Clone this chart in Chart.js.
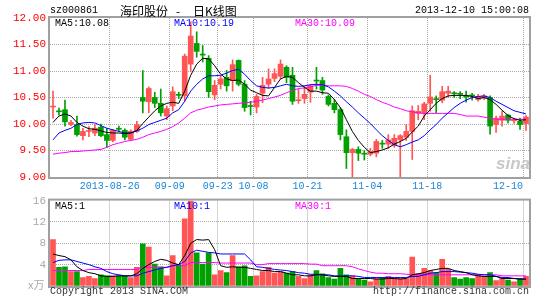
<!DOCTYPE html>
<html>
<head>
<meta charset="utf-8">
<script src="https://cdn.jsdelivr.net/npm/chart.js@4"></script>
<style>
  body { margin: 0; background: #fff; }
  #wrap { position: relative; width: 545px; height: 300px; overflow: hidden; }
  canvas { position: absolute; left: 0; }
  .t { position: absolute; font: 10px 'Liberation Mono', monospace; line-height: 12px; white-space: pre; }
  .cjk { position: absolute; font: 12px 'Noto Sans CJK SC', sans-serif; line-height: 14px; }
</style>
</head>
<body>
<div id="wrap">
  <canvas id="price" width="545" height="195" style="top:0"></canvas>
  <canvas id="volume" width="545" height="110" style="top:190px"></canvas>

  <div class="t" style="left:50px;top:5px">sz000861</div>
  <div class="cjk" style="left:120px;top:4px">海印股份</div>
  <div class="cjk" style="left:176px;top:4px">-</div>
  <div class="cjk" style="left:193px;top:4px">日K线图</div>
  <div class="t" style="right:16px;top:5px">2013-12-10 15:00:08</div>

  <div class="t" style="left:55px;top:18px;color:#000">MA5:10.08</div>
  <div class="t" style="left:174px;top:18px;color:#0000ff">MA10:10.19</div>
  <div class="t" style="left:295px;top:18px;color:#ff00ff">MA30:10.09</div>

  <div class="t" style="left:55px;top:201px;color:#000">MA5:1</div>
  <div class="t" style="left:174px;top:201px;color:#0000ff">MA10:1</div>
  <div class="t" style="left:295px;top:201px;color:#ff00ff">MA30:1</div>

  <div class="cjk" style="left:28px;top:277px;color:#aaa;font-size:11px">x万</div>
  <div class="t" style="left:50px;top:286px;color:#333">Copyright 2013 SINA.COM</div>
  <div class="t" style="right:16px;top:286px;color:#333">http://finance.sina.com.cn</div>
  <div style="position:absolute;left:496px;top:154px;font:italic bold 17px 'Liberation Sans',sans-serif;color:#c8c8c8">sina</div>
</div>

<script>
const dates = [
  '2013-08-12','2013-08-13','2013-08-14','2013-08-15','2013-08-16','2013-08-19','2013-08-20','2013-08-21','2013-08-22','2013-08-23',
  '2013-08-26','2013-08-27','2013-08-28','2013-08-29','2013-08-30','2013-09-02','2013-09-03','2013-09-04','2013-09-05','2013-09-06',
  '2013-09-09','2013-09-10','2013-09-11','2013-09-12','2013-09-13','2013-09-16','2013-09-17','2013-09-18',
  '2013-09-23','2013-09-24','2013-09-25','2013-09-26','2013-09-27','2013-09-30',
  '2013-10-08','2013-10-09','2013-10-10','2013-10-11','2013-10-14','2013-10-15','2013-10-16','2013-10-17','2013-10-18',
  '2013-10-21','2013-10-22','2013-10-23','2013-10-24','2013-10-25','2013-10-28','2013-10-29','2013-10-30','2013-10-31','2013-11-01',
  '2013-11-04','2013-11-05','2013-11-06','2013-11-07','2013-11-08','2013-11-11','2013-11-12','2013-11-13','2013-11-14','2013-11-15',
  '2013-11-18','2013-11-19','2013-11-20','2013-11-21','2013-11-22','2013-11-25','2013-11-26','2013-11-27','2013-11-28','2013-11-29',
  '2013-12-02','2013-12-03','2013-12-04','2013-12-05','2013-12-06','2013-12-09','2013-12-10'
];

const tickDates = ['2013-08-26','2013-09-09','2013-09-23','2013-10-08','2013-10-21','2013-11-04','2013-11-18','2013-12-10'];
const tickText = ['2013-08-26','09-09','09-23','10-08','10-21','11-04','11-18','12-10     '];

const open = [
  10.32,10.24,10.27,9.99,9.99,9.78,9.86,9.83,9.94,9.80,
  9.69,9.92,9.88,9.71,9.86,10.50,10.42,10.50,10.39,10.15,
  10.34,10.56,10.53,11.13,11.52,11.31,11.24,10.55,10.75,10.88,
  10.82,11.20,10.75,10.35,10.32,10.58,10.75,10.86,10.90,11.07,
  10.92,10.44,10.48,10.60,10.82,10.82,10.52,10.39,10.27,9.76,
  9.46,9.52,9.44,9.43,9.45,9.63,9.62,9.60,9.70,9.75,
  9.86,10.20,10.20,10.39,10.47,10.45,10.58,10.58,10.57,10.52,
  10.54,10.46,10.49,10.50,9.99,10.07,10.17,10.06,10.05,10.01
];
const close = [
  10.33,10.23,10.04,10.03,9.80,9.86,9.87,9.92,9.78,9.69,
  9.88,9.90,9.75,9.86,9.99,10.43,10.67,10.39,10.21,10.29,
  10.61,10.54,11.28,11.66,11.37,11.30,10.61,10.73,10.85,10.72,
  11.12,10.75,10.31,10.33,10.52,10.73,10.85,10.95,11.13,10.88,
  10.43,10.45,10.56,10.72,10.81,10.64,10.37,10.27,9.80,9.46,
  9.52,9.45,9.43,9.48,9.67,9.62,9.70,9.73,9.78,9.86,
  10.25,10.24,10.38,10.51,10.46,10.61,10.62,10.57,10.56,10.51,
  10.53,10.52,10.53,9.96,10.11,10.15,10.07,10.07,9.99,10.13
];
const high = [
  10.62,10.30,10.45,10.07,10.15,9.92,9.95,9.99,10.00,9.92,
  9.90,9.96,9.91,9.89,10.05,11.01,10.70,10.60,10.66,10.34,
  10.70,10.60,11.32,11.93,11.74,11.48,11.29,10.82,10.91,11.01,
  11.21,11.21,10.82,10.43,10.56,10.88,11.04,11.04,11.21,11.10,
  11.07,10.66,10.72,10.75,11.07,10.88,10.55,10.46,10.31,9.89,
  9.54,9.57,9.50,9.54,9.71,9.69,9.80,9.80,9.80,9.99,
  10.34,10.35,10.41,10.92,10.53,10.71,10.71,10.61,10.61,10.62,
  10.58,10.56,10.56,10.53,10.15,10.24,10.18,10.11,10.11,10.16
];
const low = [
  10.11,10.17,9.96,9.97,9.77,9.70,9.76,9.78,9.76,9.56,
  9.66,9.86,9.70,9.69,9.84,10.21,10.21,10.31,10.15,10.08,
  10.25,10.48,10.43,10.99,11.26,11.17,10.50,10.46,10.66,10.62,
  10.62,10.72,10.24,10.17,10.21,10.40,10.67,10.80,10.85,10.78,
  10.37,10.39,10.39,10.41,10.66,10.56,10.34,10.21,9.70,9.16,
  9.00,9.31,9.32,9.40,9.38,9.54,9.54,9.56,9.00,9.69,
  9.33,10.08,10.08,10.24,10.21,10.40,10.50,10.50,10.48,10.41,
  10.45,10.43,10.46,9.81,9.84,9.96,10.02,10.01,9.90,9.88
];

const ma5 = [
  10.03,10.15,10.19,10.15,10.03,9.96,9.91,9.90,9.87,9.84,
  9.83,9.83,9.82,9.83,9.88,10.01,10.13,10.25,10.34,10.39,
  10.41,10.39,10.62,10.92,11.13,11.24,11.23,11.10,10.94,10.85,
  10.82,10.83,10.75,10.64,10.59,10.54,10.53,10.69,10.85,10.90,
  10.88,10.78,10.69,10.62,10.62,10.59,10.58,10.46,10.31,10.08,
  9.86,9.69,9.56,9.46,9.48,9.51,9.55,9.62,9.67,9.73,
  9.85,9.96,10.15,10.27,10.39,10.48,10.53,10.54,10.54,10.54,
  10.52,10.48,10.50,10.46,10.37,10.26,10.16,10.10,10.07,10.08
];
const ma10 = [
  9.70,9.83,9.88,9.92,9.99,10.02,10.03,10.02,9.97,9.92,
  9.89,9.86,9.83,9.83,9.87,9.92,9.99,10.03,10.07,10.11,
  10.21,10.27,10.43,10.62,10.75,10.85,10.91,10.91,10.92,10.96,
  11.01,11.03,10.94,10.82,10.72,10.69,10.68,10.69,10.72,10.75,
  10.72,10.71,10.72,10.74,10.75,10.74,10.70,10.62,10.53,10.42,
  10.32,10.21,10.11,10.01,9.89,9.78,9.69,9.61,9.57,9.61,
  9.66,9.70,9.78,9.89,9.99,10.11,10.21,10.31,10.39,10.45,
  10.50,10.52,10.53,10.50,10.43,10.37,10.31,10.25,10.22,10.19
];
const ma30 = [
  9.43,9.45,9.46,9.48,9.48,9.49,9.50,9.51,9.52,9.56,
  9.61,9.64,9.67,9.69,9.71,9.75,9.80,9.83,9.86,9.90,
  9.95,10.02,10.11,10.21,10.26,10.29,10.32,10.34,10.36,10.37,
  10.38,10.39,10.40,10.41,10.43,10.45,10.48,10.51,10.54,10.59,
  10.63,10.67,10.68,10.70,10.73,10.73,10.72,10.72,10.72,10.71,
  10.67,10.62,10.56,10.52,10.46,10.41,10.37,10.32,10.29,10.25,
  10.23,10.21,10.20,10.20,10.20,10.20,10.20,10.20,10.18,10.15,
  10.15,10.15,10.13,10.11,10.09,10.09,10.09,10.09,10.09,10.09
];

// volume, in 万手
const volume = [
  8.7,3.5,3.6,2.7,2.7,1.6,1.8,1.4,2.1,1.9,
  1.9,1.9,1.8,1.6,3.5,7.9,7.3,4.1,3.6,1.9,
  5.7,4.0,12.6,15.9,6.2,4.1,6.2,2.1,2.9,2.5,
  5.7,3.6,3.8,1.8,1.9,2.7,3.5,2.4,2.7,2.4,
  2.7,1.8,1.4,2.1,2.9,2.3,1.6,1.3,3.3,2.1,
  1.9,1.4,1.1,0.8,1.4,1.6,1.8,1.4,1.4,1.4,
  5.4,2.3,3.3,2.9,2.5,5.0,3.1,1.6,1.3,1.6,
  1.4,2.1,1.8,2.5,1.0,1.4,1.1,0.8,1.4,1.8
];
const vma5 = [
  6.0,5.7,5.5,4.9,3.6,2.9,2.5,2.3,1.9,1.8,
  1.8,1.9,1.9,1.9,2.3,3.3,4.0,4.6,5.0,4.8,
  4.3,4.0,5.7,8.0,8.7,8.6,8.7,6.8,3.8,3.5,
  3.6,3.5,3.5,3.3,3.1,2.9,2.9,2.7,2.7,2.4,
  2.1,2.1,1.9,1.9,2.1,2.1,1.9,1.8,1.8,1.8,
  1.4,1.4,1.4,1.4,1.3,1.3,1.4,1.4,1.3,1.4,
  2.1,2.3,2.5,2.9,3.1,3.3,3.3,2.9,2.7,2.5,
  2.1,1.9,1.8,1.8,1.8,1.4,1.4,1.4,1.3,1.3
];
const vma10 = [
  4.4,4.8,4.9,4.9,4.6,4.3,4.0,3.6,3.3,2.7,
  2.3,2.1,1.9,1.9,1.9,2.4,2.7,3.0,3.3,3.5,
  3.8,4.0,4.6,6.2,6.7,6.5,6.3,6.2,6.0,6.0,
  6.0,6.0,6.0,4.9,3.6,3.5,3.3,3.1,3.0,2.9,
  2.7,2.5,2.4,2.2,2.2,2.1,2.1,1.9,1.9,1.9,
  1.9,1.8,1.6,1.6,1.6,1.6,1.6,1.6,1.6,1.6,
  1.8,1.8,2.1,2.4,2.5,2.7,2.7,2.7,2.6,2.5,
  2.4,2.2,2.1,2.1,1.8,1.6,1.6,1.4,1.3,1.3
];
const vma30 = [
  2.9,2.9,2.9,2.9,2.9,2.9,3.1,3.1,3.1,3.1,
  3.1,3.1,3.1,3.1,3.1,3.5,3.5,3.5,3.5,3.5,
  3.8,3.8,3.8,4.4,4.4,4.4,4.4,4.4,4.3,4.3,
  4.3,4.3,4.3,4.3,4.0,4.0,4.2,4.2,4.2,4.2,
  4.2,4.2,4.2,4.1,4.1,3.8,3.8,3.8,3.8,3.8,
  3.6,3.2,2.9,2.6,2.4,2.4,2.3,2.3,2.3,2.2,
  2.1,2.1,2.1,2.1,2.1,2.1,2.1,2.1,2.1,2.1,
  2.1,2.1,2.1,2.1,2.1,1.9,1.9,1.9,1.9,1.9
];

const RED = '#ff5555';
const GREEN = '#00a000';
const GRID = '#aaaaaa';
const MONO = "'Liberation Mono', monospace";

const upColors = close.map((c, i) => c >= open[i] ? RED : GREEN);

// gray box round the plot area
const frame = {
    id: 'frame',
    afterDraw(chart) {
        const { ctx, chartArea: a } = chart;
        ctx.save();
        ctx.strokeStyle = '#a0a0a0';
        ctx.lineWidth = 2;
        ctx.strokeRect(a.left - 1, a.top - 1, a.right - a.left + 2, a.bottom - a.top + 2);
        ctx.restore();
    }
};

function xGridColor(ctx) {
    return tickDates.includes(dates[ctx.index]) ? GRID : 'transparent';
}

function maLine(data, color) {
    return { type: 'line', data: data, borderColor: color, borderWidth: 1, pointRadius: 0, tension: 0, order: 0 };
}

function xScale(showLabels, height) {
    return {
        grid: { offset: true, color: xGridColor, drawTicks: false },
        border: { display: false, dash: [1, 1] },
        ticks: {
            display: showLabels,
            autoSkip: false,
            maxRotation: 0,
            labelOffset: -3,
            padding: 3,
            color: '#1a86d6',
            font: { family: MONO, size: 10 },
            callback: (v, i) => {
                const k = tickDates.indexOf(dates[i]);
                return k >= 0 ? tickText[k] : '';
            }
        },
        afterFit: s => {
            s.height = height;
            s.paddingLeft = 0;
            s.paddingRight = 0;
        }
    };
}

const baseOptions = {
    responsive: false,
    animation: false,
    events: [],
    plugins: { legend: { display: false }, tooltip: { enabled: false } }
};

new Chart(document.getElementById('price'), {
    type: 'bar',
    data: {
        labels: dates,
        datasets: [
            maLine(ma5, '#000000'),
            maLine(ma10, '#0000ff'),
            maLine(ma30, '#ff00ff'),
            {
                data: open.map((o, i) => [o, close[i]]),
                backgroundColor: upColors,
                barThickness: 5,
                minBarLength: 1,
                grouped: false,
                order: 1
            },
            {
                data: low.map((l, i) => [l, high[i]]),
                backgroundColor: upColors,
                barThickness: 1,
                grouped: false,
                order: 2
            }
        ]
    },
    options: {
        ...baseOptions,
        layout: { padding: { left: 0, right: 16, top: 18, bottom: 0 }, autoPadding: false },
        scales: {
            x: xScale(true, 18),
            y: {
                min: 9,
                max: 12,
                grid: { color: c => (c.tick.value <= 9 || c.tick.value >= 12) ? 'transparent' : GRID, drawTicks: false },
                border: { display: false, dash: [1, 1] },
                ticks: {
                    stepSize: 0.5,
                    padding: 4,
                    color: '#ff0000',
                    font: { family: MONO, size: 11 },
                    callback: v => v.toFixed(2)
                },
                afterFit: s => { s.width = 50; }
            }
        }
    },
    plugins: [frame]
});

new Chart(document.getElementById('volume'), {
    type: 'bar',
    data: {
        labels: dates,
        datasets: [
            maLine(vma5, '#000000'),
            maLine(vma10, '#0000ff'),
            maLine(vma30, '#ff00ff'),
            {
                data: volume,
                backgroundColor: upColors,
                barThickness: 5,
                grouped: false,
                order: 1
            }
        ]
    },
    options: {
        ...baseOptions,
        layout: { padding: { left: 0, right: 16, top: 10, bottom: 0 }, autoPadding: false },
        scales: {
            x: xScale(false, 14),
            y: {
                min: 0,
                max: 16,
                grid: { color: c => (c.tick.value <= 0 || c.tick.value >= 16) ? 'transparent' : GRID, drawTicks: false },
                border: { display: false, dash: [1, 1] },
                ticks: {
                    stepSize: 4,
                    padding: 4,
                    color: '#aaaaaa',
                    font: { family: MONO, size: 11 },
                    callback: v => v === 0 ? '' : v
                },
                afterFit: s => { s.width = 50; }
            }
        }
    },
    plugins: [frame]
});
</script>
</body>
</html>
